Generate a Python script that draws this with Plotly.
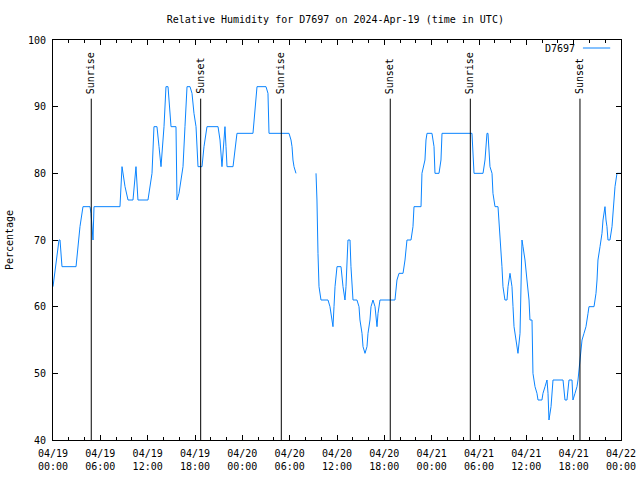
import pandas as pd
import plotly.graph_objects as go

# hours since 2024-04-19 00:00 UTC and relative humidity (%)
hours = [0.0, 0.38, 0.76, 0.89, 1.14, 2.92, 3.17, 3.42, 3.80, 4.69, 4.82, 4.94, 5.07, 5.20,
         8.49, 8.75, 9.13, 9.51, 10.14, 10.52, 10.77, 12.04, 12.30, 12.55, 12.80, 13.18,
         13.44, 13.69, 14.07, 14.32, 14.58, 14.83, 14.96, 15.59, 15.72, 15.97, 16.22, 16.48,
         16.73, 16.99, 17.37, 17.62, 17.87, 18.13, 18.38, 18.89, 19.14, 19.52, 20.92, 21.17,
         21.42, 21.55, 21.80, 21.93, 22.06, 22.82, 23.07, 23.32, 25.35, 25.61, 25.86, 27.00,
         27.25, 27.38, 29.92, 30.17, 30.30, 30.42, 30.55, 30.80,
         32.0,
         33.34, 33.46, 33.59, 33.72, 33.97, 34.86, 35.11, 35.37, 35.49, 35.62, 35.75, 36.00,
         36.51, 36.76, 37.01, 37.14, 37.27, 37.39, 37.65, 37.77, 38.03, 38.53, 38.79, 38.91,
         39.17, 39.30, 39.55, 39.80, 39.93, 40.18, 40.31, 40.56, 40.82, 41.07, 41.20, 41.45,
         43.35, 43.60, 43.86, 44.37, 44.62, 44.87, 45.38, 45.63, 45.76, 46.65, 46.77, 47.15,
         47.28, 47.41, 48.04, 48.30, 48.42, 48.93, 49.18, 49.31, 53.11, 53.37, 54.51, 54.76,
         55.01, 55.14, 55.39, 55.65, 55.77, 56.03, 56.41, 56.66, 56.79, 56.91, 57.04, 57.29,
         57.55, 57.68, 57.93, 58.18, 58.31, 58.44, 58.69, 58.94, 59.20, 59.32, 59.45, 59.58,
         59.83, 60.08, 60.34, 60.46, 60.72, 60.84, 61.10, 61.35, 61.48, 61.98, 62.11, 62.37,
         62.62, 62.75, 62.87, 63.13, 63.25, 63.38, 64.65, 64.77, 64.90, 65.15, 65.41, 65.79,
         65.91, 66.17, 66.42, 66.55, 66.80, 66.93, 67.06, 67.31, 67.56, 67.82, 67.94, 68.58,
         68.83, 68.96, 69.08, 69.34, 69.59, 69.72, 69.97, 70.10, 70.22, 70.35, 70.60, 70.86,
         70.98, 71.11, 71.24, 71.49, 72.00]
rh = [63, 67, 70, 70, 66, 66, 69, 72, 75, 75, 74, 72, 70, 75,
      75, 81, 78, 76, 76, 81, 76, 76, 78, 80, 87, 87,
      84, 81, 87, 93, 93, 89, 87, 87, 76, 77, 79, 81,
      87, 93, 93, 92, 89, 87, 81, 81, 84, 87, 87, 85,
      81, 83, 87, 84, 81, 81, 84, 86, 86, 89, 93, 93,
      92, 86, 86, 85, 84, 82, 81, 80,
      None,
      80, 76, 68, 63, 61, 61, 60, 58, 57, 60, 63, 66,
      66, 63, 61, 63, 66, 70, 70, 66, 61, 61, 60, 58,
      56, 54, 53, 54, 56, 58, 60, 61, 60, 57, 59, 61,
      61, 64, 65, 65, 67, 70, 70, 72, 75, 75, 80, 82,
      85, 86, 86, 84, 80, 80, 82, 86, 86, 80, 80, 82,
      86, 86, 81, 80, 77, 75, 75, 71, 68, 66, 63, 61,
      61, 63, 65, 63, 60, 57, 55, 53, 56, 62, 70, 69,
      67, 64, 61, 58, 58, 50, 48, 47, 46, 46, 47, 48,
      49, 47, 43, 45, 47, 49, 49, 47, 46, 46, 49, 49,
      46, 47, 48, 49, 51.5, 53, 55, 56, 57, 59, 60, 60,
      62, 64, 67, 69, 71, 73, 75, 73, 72, 70, 70, 72,
      74, 76, 78, 80, 80]

event_hours = [4.85, 18.72, 28.94, 42.75, 52.90, 66.80]
event_labels = ["Sunrise", "Sunset", "Sunrise", "Sunset", "Sunrise", "Sunset"]

base = pd.Timestamp("2024-04-19 00:00")
times = [base + pd.Timedelta(hours=h) for h in hours]
ev_times = [base + pd.Timedelta(hours=h) for h in event_hours]

FONT = "DejaVu Sans Mono"
LINE_COLOR = "#0a84ff"
fig = go.Figure()
fig.add_trace(go.Scatter(x=times, y=rh, mode="lines", line=dict(color=LINE_COLOR, width=1),
                         connectgaps=False, name="D7697", showlegend=False))

for t, lab in zip(ev_times, event_labels):
    fig.add_shape(type="line", x0=t, x1=t, y0=40, y1=91.2, xref="x", yref="y",
                  line=dict(color="black", width=1))
    fig.add_annotation(x=t, y=91.6, xref="x", yref="y", text=lab, textangle=-90,
                       showarrow=False, xanchor="center", yanchor="bottom", xshift=-1,
                       font=dict(family=FONT, size=10, color="black"))

# legend (text then sample, gnuplot style)
fig.add_annotation(x=0.9225, y=0.98, xref="paper", yref="paper", text="D7697",
                   showarrow=False, xanchor="right", yanchor="middle",
                   font=dict(family=FONT, size=10, color="black"))
fig.add_shape(type="line", x0=0.933, x1=0.981, y0=0.98, y1=0.98, xref="paper", yref="paper",
              line=dict(color=LINE_COLOR, width=1))

fig.update_layout(
    width=640, height=480,
    margin=dict(l=53, r=19, t=40, b=40, autoexpand=False),
    paper_bgcolor="white", plot_bgcolor="white",
    font=dict(family=FONT, size=10, color="black"),
    title=dict(text="Relative Humidity for D7697 on 2024-Apr-19 (time in UTC)",
               x=0.524, xanchor="center", y=1 - 19 / 480, yanchor="middle", yref="container",
               font=dict(family=FONT, size=10, color="black")),
    showlegend=False,
)
fig.update_xaxes(range=[base, base + pd.Timedelta(hours=72)], tick0=base, dtick=6 * 3600 * 1000,
                 tickformat="%m/%d<br>%H:%M", ticks="inside", ticklen=5, tickcolor="black",
                 showline=True, linecolor="black", linewidth=1, mirror="ticks", showgrid=False,
                 zeroline=False, automargin=False, ticklabelstandoff=4,
                 tickfont=dict(family=FONT, size=10, color="black"),
                 minor=dict(dtick=2 * 3600 * 1000, ticks="inside", ticklen=3, tickcolor="black"))
fig.update_yaxes(range=[40, 100], dtick=10, ticks="inside", ticklen=5, tickcolor="black",
                 showline=True, linecolor="black", linewidth=1, mirror="ticks", showgrid=False,
                 zeroline=False, automargin=False, ticklabelstandoff=4,
                 tickfont=dict(family=FONT, size=10, color="black"),
                 title=dict(text="Percentage", standoff=12,
                            font=dict(family=FONT, size=10, color="black")))

fig.write_html("out.html", post_script="document.body.style.margin='0';",
               config={"displayModeBar": False})
